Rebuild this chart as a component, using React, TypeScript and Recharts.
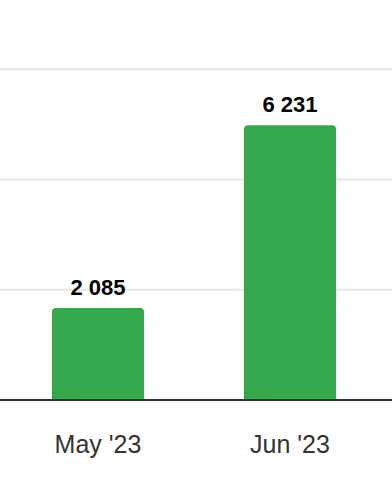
import React from 'react';
import { BarChart, Bar, XAxis, YAxis, CartesianGrid, LabelList } from 'recharts';

const months = ["May '23", "Jun '23"];
const values = [2085, 6231];
const gridTicks = [0, 2500, 5000, 7500];

const data = months.map((month, i) => ({ month, value: values[i] }));

const FONT = '"Liberation Sans", Arial, Helvetica, sans-serif';

// "6231" -> "6 231"
const formatValue = (v: any) => String(v).replace(/\B(?=(\d{3})+(?!\d))/g, ' ');

export default function App() {
  return (
    <div style={{ position: 'absolute', left: 0, top: 0, width: 392, height: 500, background: '#fff' }}>
      <BarChart
        width={392}
        height={500}
        data={data}
        margin={{ top: 0, right: 0, bottom: 0, left: 0 }}
      >
        <CartesianGrid
          vertical={false}
          stroke="#e6e6e6"
          strokeWidth={2}
          horizontalValues={gridTicks}
        />
        <XAxis
          dataKey="month"
          height={100}
          padding={{ left: 2, right: 6 }}
          axisLine={{ stroke: '#333333', strokeWidth: 2 }}
          tickLine={false}
          tickSize={0}
          tickMargin={35}
          tick={{ fill: '#333333', fontSize: 25, fontFamily: FONT }}
        />
        <YAxis hide domain={[0, 9070]} ticks={gridTicks} />
        <Bar
          dataKey="value"
          fill="#34a94b"
          barSize={92}
          radius={[4, 4, 0, 0]}
          isAnimationActive={false}
        >
          <LabelList
            dataKey="value"
            position="top"
            offset={13}
            formatter={formatValue}
            style={{ fill: '#000', fontSize: 22, fontWeight: 700, fontFamily: FONT }}
          />
        </Bar>
      </BarChart>
    </div>
  );
}
